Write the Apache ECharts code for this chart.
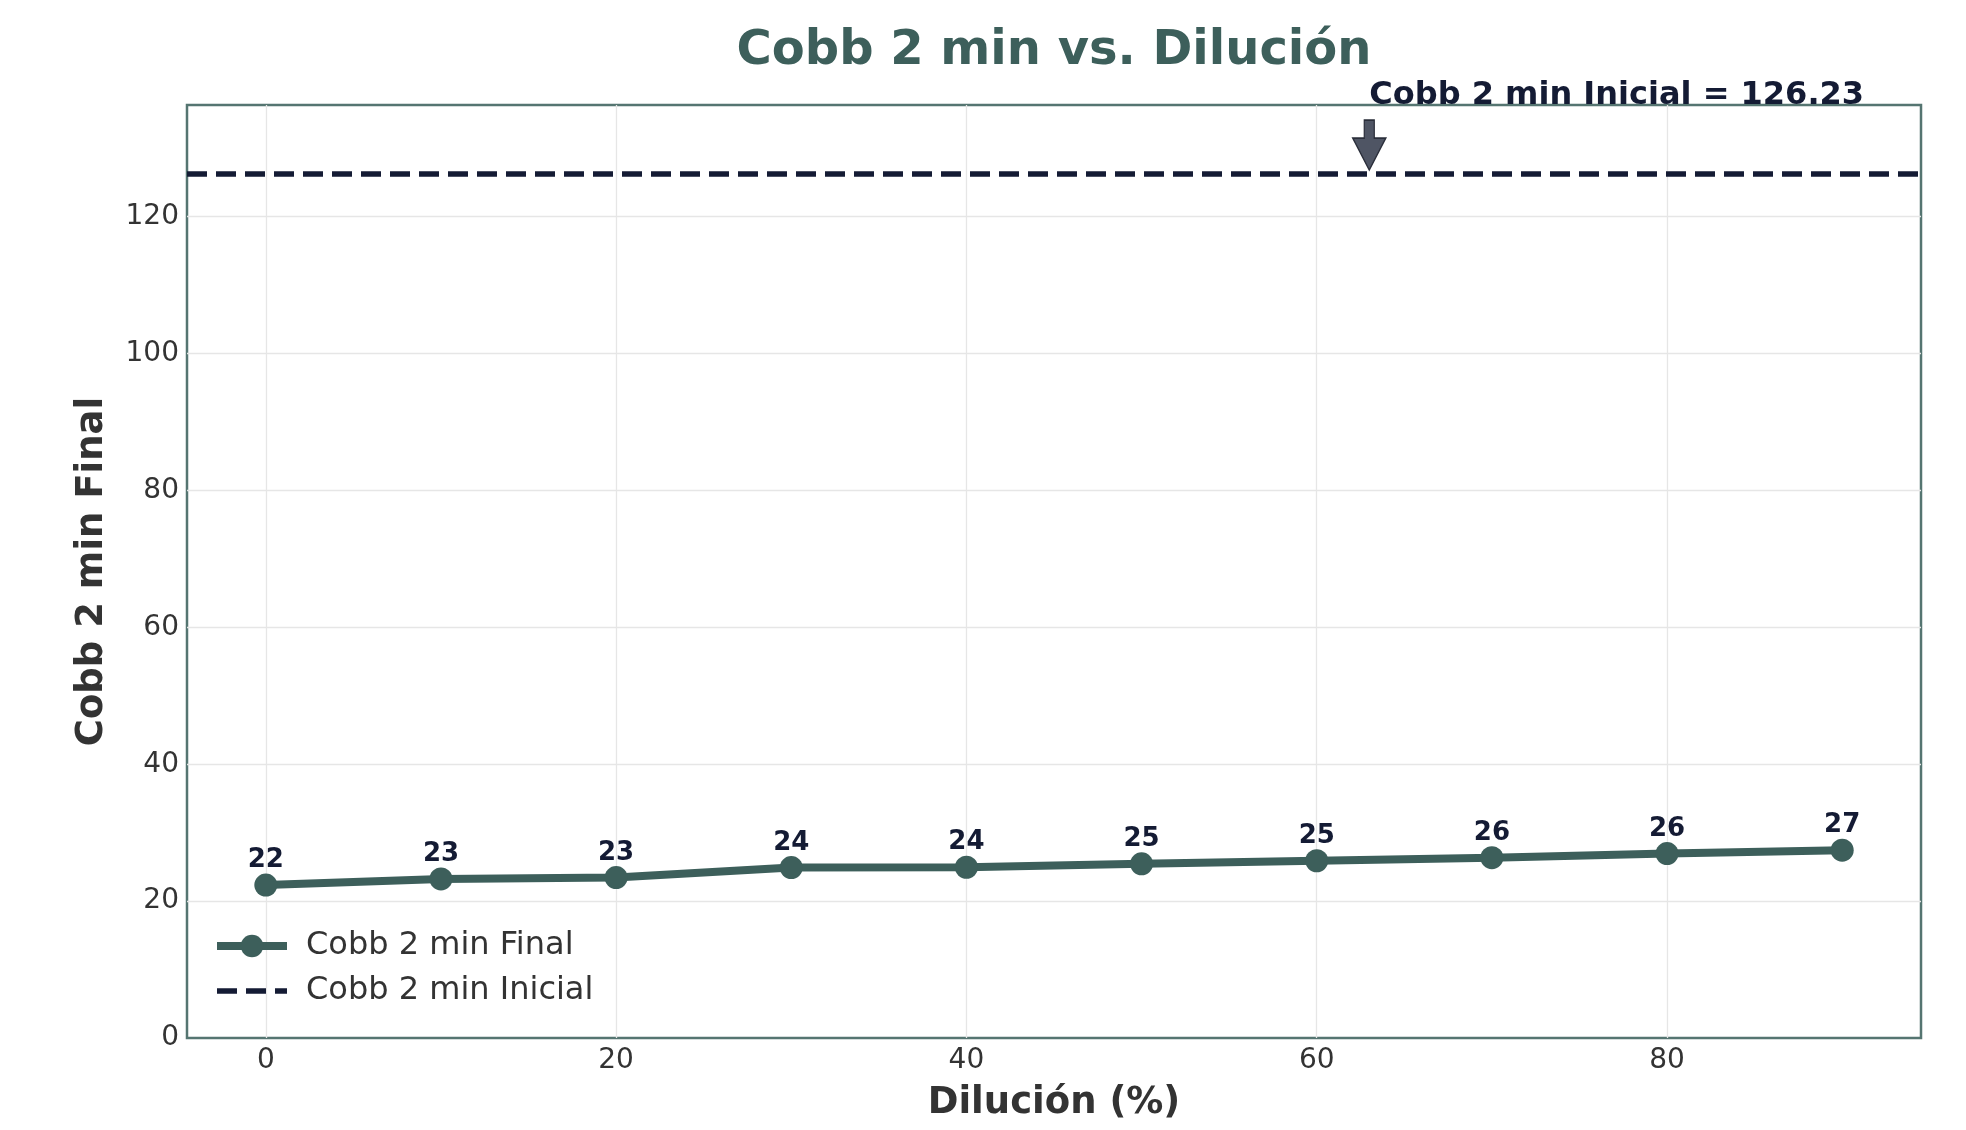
<!DOCTYPE html>
<html>
<head>
<meta charset="utf-8">
<title>Cobb 2 min vs. Dilución</title>
<script src="https://cdn.jsdelivr.net/npm/echarts@6/dist/echarts.min.js"></script>
<style>
  html, body { margin: 0; padding: 0; background: #fff; }
  #main { width: 1966px; height: 1130px; }
</style>
</head>
<body>
<div id="main"></div>
<script>
// datos
var dilucion = [0, 10, 20, 30, 40, 50, 60, 70, 80, 90];
var cobbFinal = [22.35, 23.25, 23.45, 24.9, 24.95, 25.45, 25.9, 26.35, 26.95, 27.45];
var cobbInicial = 126.23;
var yTicks = [0, 20, 40, 60, 80, 100, 120];

var verde = '#3d5f5b';
var azul = '#141b34';
var fuente = 'DejaVu Sans';

// margen de 5% en x como matplotlib, y tope = inicial * 1.08
var xLo = Math.min.apply(null, dilucion), xHi = Math.max.apply(null, dilucion);
var xPad = (xHi - xLo) * 0.05;
var yMax = cobbInicial * 1.08;
var flechaX = xHi * 0.7;

var puntos = [];
for (var i = 0; i < dilucion.length; i++) {
  puntos.push([dilucion[i], cobbFinal[i]]);
}

var myChart = echarts.init(document.getElementById('main'));

var option = {
  animation: false,
  textStyle: { fontFamily: fuente },
  title: {
    text: 'Cobb 2 min vs. Dilución',
    left: 1054,
    top: 28,
    padding: 0,
    textAlign: 'center',
    textStyle: { fontFamily: fuente, fontSize: 48, fontWeight: 'bold', color: verde }
  },
  legend: {
    data: [
      { name: 'Cobb 2 min Final' },
      { name: 'Cobb 2 min Inicial', itemStyle: { opacity: 0 } }
    ],
    orient: 'vertical',
    left: 213,
    top: 930,
    padding: 0,
    itemWidth: 70,
    itemHeight: 28,
    itemGap: 13,
    lineStyle: { width: 'inherit' },
    textStyle: { fontFamily: fuente, fontSize: 32, color: '#333', lineHeight: 31, padding: [0, 0, 0, 14] }
  },
  grid: {
    left: 187,
    right: 45,
    top: 105,
    bottom: 92,
    show: true,
    borderColor: '#557571',
    borderWidth: 2.5,
    backgroundColor: '#fff'
  },
  xAxis: {
    type: 'value',
    min: xLo - xPad,
    max: xHi + xPad,
    splitNumber: 5,
    name: 'Dilución (%)',
    nameLocation: 'middle',
    nameGap: 47,
    nameTextStyle: { fontFamily: fuente, fontSize: 37, fontWeight: 'bold', color: '#333' },
    axisLine: { show: false },
    axisTick: { show: false },
    axisLabel: { showMinLabel: false, showMaxLabel: false, fontSize: 28, color: '#333', margin: 9 },
    splitLine: { show: true, showMinLine: false, showMaxLine: false, lineStyle: { color: '#e6e6e6', width: 1.3 } }
  },
  yAxis: {
    type: 'value',
    min: yTicks[0],
    max: yMax,
    interval: yTicks[1] - yTicks[0],
    name: 'Cobb 2 min Final',
    nameLocation: 'middle',
    nameGap: 76,
    nameTextStyle: { fontFamily: fuente, fontSize: 37, fontWeight: 'bold', color: '#333' },
    axisLine: { show: false },
    axisTick: { show: false },
    axisLabel: { showMaxLabel: false, fontSize: 28, color: '#333', margin: 8 },
    splitLine: { show: true, showMinLine: false, showMaxLine: false, lineStyle: { color: '#e6e6e6', width: 1.3 } }
  },
  series: [
    {
      name: 'Cobb 2 min Final',
      type: 'line',
      data: puntos,
      z: 4,
      symbol: 'circle',
      symbolSize: 23,
      lineStyle: { width: 8, color: verde },
      itemStyle: { color: verde },
      label: {
        show: true,
        position: 'top',
        distance: 0,
        fontSize: 26,
        fontWeight: 'bold',
        color: azul,
        formatter: function (p) { return Math.floor(p.value[1]); }
      }
    },
    {
      name: 'Cobb 2 min Inicial',
      type: 'line',
      data: [],
      symbol: 'none',
      z: 3,
      lineStyle: { width: 5.5, color: azul, type: [20, 9] },
      itemStyle: { color: azul },
      markLine: {
        silent: true,
        symbol: ['none', 'none'],
        label: { show: false },
        lineStyle: { width: 5.5, color: azul, type: [20, 9] },
        data: [{ yAxis: cobbInicial }]
      },
      markPoint: {
        silent: true,
        symbol: 'path://M11.5,0 L21.5,0 L21.5,18 L33,18 L16.5,50 L0,18 L11.5,18 Z',
        symbolSize: [33, 50],
        symbolOffset: [0, -29],
        itemStyle: { color: '#4f5564', borderColor: '#2a2e3a', borderWidth: 1.5 },
        label: {
          show: true,
          position: 'top',
          distance: 8,
          align: 'left',
          fontSize: 32,
          fontWeight: 'bold',
          color: azul,
          formatter: 'Cobb 2 min Inicial = ' + cobbInicial.toFixed(2)
        },
        data: [{ coord: [flechaX, cobbInicial] }]
      }
    }
  ]
};
myChart.setOption(option);
</script>
</body>
</html>
